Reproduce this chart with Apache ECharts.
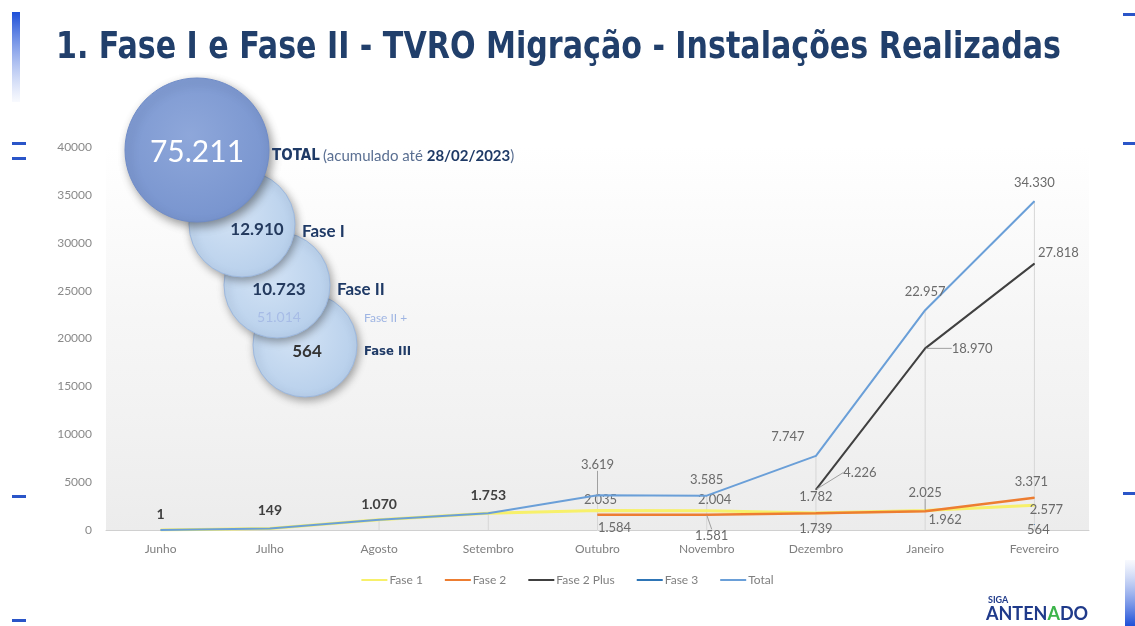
<!DOCTYPE html>
<html><head><meta charset="utf-8">
<script src="https://cdn.jsdelivr.net/npm/echarts@6/dist/echarts.min.js"></script>
<style>html,body{margin:0;padding:0;background:#fff}#c{width:1135px;height:626px}</style>
</head><body><div id="c"></div>
<script>
// ---------------- DATA ----------------
const months = ['Junho','Julho','Agosto','Setembro','Outubro','Novembro','Dezembro','Janeiro','Fevereiro'];
const fase1 = [1, 149, 1070, 1753, 2035, 2004, 1782, 2025, 2577];
const fase2 = [null, null, null, null, 1584, 1581, 1739, 1962, 3371];
const fase2Plus = [null, null, null, null, null, null, 4226, 18970, 27818];
const fase3 = [null, null, null, null, null, null, null, null, 564];
const total = [1, 149, 1070, 1753, 3619, 3585, 7747, 22957, 34330];
const yMin = 0, yMax = 40000, yStep = 5000;
const seriesNames = ['Fase 1', 'Fase 2', 'Fase 2 Plus', 'Fase 3', 'Total'];
const titleText = '1. Fase I e Fase II - TVRO Migração - Instalações Realizadas';
const bubbleValues = ['75.211', '12.910', '10.723', '51.014', '564'];
const bubbleLabels = ['TOTAL', 'Fase I', 'Fase II', 'Fase II +', 'Fase III'];
const totalNote = ['(acumulado até ', '28/02/2023', ')'];

// ---------------- LABEL PLACEMENT (style, kept apart from data) ----------------
// [dx, dy, leader?]  label centre relative to the point
const offTotal = [[0,-16],[0,-18],[0,-15],[0,-18],[0,-31,1],[0,-16],[-28,-19],[0,-18],[0,-18]];
const offF1 = [null,null,null,null,[3,-11],[8,-11],[0,-16],[0,-18,1],[12,4]];
const offF2 = [null,null,null,null,[17,13],[5,21,1],[0,15],[20,9],[-3,-16]];
const offF2P = [null,null,null,null,null,null,[44,-17,1],[47,0,1],[24,-11]];
const offF3 = [null,null,null,null,null,null,null,null,[4,5]];
const boldFirst = 4; // first total labels drawn darker/bolder

function fmt(v){ return String(v).replace(/\B(?=(\d{3})+(?!\d))/g, '.'); }

function buildData(values, offs, isTotal){
  return values.map((v, i) => {
    if (v == null) return null;
    const o = offs[i];
    const item = { value: v };
    if (o) {
      item.label = { show: true, position: 'inside' };
      if (isTotal && i < boldFirst) {
        item.label.color = '#404040';
        item.label.fontWeight = 'bold';
        item.label.fontSize = 14;
      }
      if (o[2]) item.labelLine = { show: true };
    } else {
      item.label = { show: false };
    }
    return item;
  });
}

const chart = echarts.init(document.getElementById('c'), null, { renderer: 'canvas' });
const fontB = 'Lato, "Open Sans", sans-serif';

const labelBase = { show: true, color: '#6b6b6b', fontSize: 13, fontFamily: fontB,
  formatter: p => fmt(p.value) };

function lineSeries(name, values, offs, color, width, z, isTotal){
  return {
    name, type: 'line', data: buildData(values, offs, isTotal),
    symbol: 'circle', symbolSize: 1, showSymbol: true,
    lineStyle: { color, width }, itemStyle: { color },
    label: labelBase, z, connectNulls: false, animation: false,
    labelLine: { show: false, lineStyle: { color: '#a0a0a0', width: 1 }, smooth: false, length2: 0 },
    labelLayout: function (p) {
      const o = offs[p.dataIndex];
      if (o) return { dx: o[0], dy: o[1] };
      return {};
    },
    emphasis: { disabled: true }
  };
}

// measure title to reproduce condensed width
const titleFont = 'bold 38px "DejaVu Sans Condensed", "DejaVu Sans", sans-serif';
const titleTargetW = 1005;
const mctx = document.createElement('canvas').getContext('2d');
mctx.font = titleFont;
const titleScale = titleTargetW / mctx.measureText(titleText).width;

const bubbleStyleLight = {
  fill: new echarts.graphic.RadialGradient(0.4, 0.4, 0.7, [
    { offset: 0, color: '#d3e3f5' }, { offset: 1, color: '#b4cdea' }]),
  stroke: '#9db8de', lineWidth: 1,
  shadowBlur: 8, shadowColor: 'rgba(0,0,0,0.35)', shadowOffsetX: 2, shadowOffsetY: 3
};
const bubbleStyleBig = {
  fill: new echarts.graphic.RadialGradient(0.45, 0.4, 0.75, [
    { offset: 0, color: '#8ea7da' }, { offset: 1, color: '#7390cc' }]),
  stroke: '#6f8cc8', lineWidth: 1,
  shadowBlur: 10, shadowColor: 'rgba(0,0,0,0.4)', shadowOffsetX: 3, shadowOffsetY: 4
};
const navy = '#1f3a66';
const condB = '"DejaVu Sans Condensed", sans-serif';

const graphics = [
  { type: 'rect', shape: { x: 12, y: 12, width: 8, height: 90 }, style: {
      fill: new echarts.graphic.LinearGradient(0, 0, 0, 1, [{ offset: 0, color: '#1d4fd8' }, { offset: 1, color: 'rgba(120,150,230,0.05)' }]) } },
  { type: 'rect', shape: { x: 12, y: 142, width: 14, height: 3 }, style: { fill: '#2a55c8' } },
  { type: 'rect', shape: { x: 12, y: 157, width: 14, height: 3 }, style: { fill: '#2a55c8' } },
  { type: 'rect', shape: { x: 12, y: 495, width: 14, height: 3 }, style: { fill: '#2a55c8' } },
  { type: 'rect', shape: { x: 12, y: 619, width: 14, height: 3 }, style: { fill: '#2a55c8' } },
  { type: 'rect', shape: { x: 1123, y: 13, width: 12, height: 3 }, style: { fill: '#2a55c8' } },
  { type: 'rect', shape: { x: 1123, y: 142, width: 12, height: 3 }, style: { fill: '#2a55c8' } },
  { type: 'rect', shape: { x: 1123, y: 492, width: 12, height: 3 }, style: { fill: '#2a55c8' } },
  { type: 'rect', shape: { x: 1125, y: 560, width: 10, height: 66 }, style: {
      fill: new echarts.graphic.LinearGradient(0, 0, 0, 1, [{ offset: 0, color: 'rgba(120,150,230,0.05)' }, { offset: 1, color: '#1d4fd8' }]) } },
  // title
  { type: 'text', x: 50, y: 48, scaleX: titleScale, originX: 50, originY: 48,
    style: { text: titleText, fill: '#213f6b', verticalAlign: 'middle', font: titleFont } },
  // bubbles (back to front)
  { type: 'circle', shape: { cx: 305, cy: 345, r: 52 }, style: bubbleStyleLight, z: 10 },
  { type: 'circle', shape: { cx: 277, cy: 285, r: 53 }, style: bubbleStyleLight, z: 11 },
  { type: 'circle', shape: { cx: 242, cy: 224, r: 53 }, style: bubbleStyleLight, z: 12 },
  { type: 'circle', shape: { cx: 197, cy: 150, r: 72 }, style: bubbleStyleBig, z: 13 },
  { type: 'text', x: 197, y: 152, z: 14, style: { text: bubbleValues[0], fill: '#ffffff', align: 'center', verticalAlign: 'middle', font: '30px ' + fontB } },
  { type: 'text', x: 257, y: 230, z: 14, style: { text: bubbleValues[1], fill: '#243a5e', align: 'center', verticalAlign: 'middle', font: 'bold 17px ' + fontB } },
  { type: 'text', x: 279, y: 290, z: 14, style: { text: bubbleValues[2], fill: '#243a5e', align: 'center', verticalAlign: 'middle', font: 'bold 17px ' + fontB } },
  { type: 'text', x: 279, y: 317, z: 14, style: { text: bubbleValues[3], fill: '#a7bce6', align: 'center', verticalAlign: 'middle', font: '14px ' + fontB } },
  { type: 'text', x: 307, y: 352, z: 14, style: { text: bubbleValues[4], fill: '#333333', align: 'center', verticalAlign: 'middle', font: 'bold 17px ' + fontB } },
  { type: 'text', x: 272, y: 156, z: 14, style: { verticalAlign: 'middle',
      text: '{a|' + bubbleLabels[0] + '} {b|' + totalNote[0] + '}{c|' + totalNote[1] + '}{b|' + totalNote[2] + '}',
      rich: {
        a: { fill: navy, font: 'bold 15px ' + condB },
        b: { fill: '#5a6f92', font: '15px ' + fontB },
        c: { fill: navy, font: 'bold 15px ' + fontB }
      } } },
  { type: 'text', x: 302, y: 232, z: 14, style: { text: bubbleLabels[1], fill: navy, verticalAlign: 'middle', font: 'bold 17px ' + fontB } },
  { type: 'text', x: 337, y: 290, z: 14, style: { text: bubbleLabels[2], fill: navy, verticalAlign: 'middle', font: 'bold 17px ' + fontB } },
  { type: 'text', x: 364, y: 318, z: 14, style: { text: bubbleLabels[3], fill: '#9fb5e3', verticalAlign: 'middle', font: '12px ' + fontB } },
  { type: 'text', x: 364, y: 352, z: 14, style: { text: bubbleLabels[4], fill: navy, verticalAlign: 'middle', font: 'bold 13px ' + condB } },
  // logo
  { type: 'text', x: 988, y: 596, style: { text: 'SIGA', fill: '#1f3a8a', font: 'bold 9px ' + fontB } },
  { type: 'text', x: 986, y: 605, style: {
      text: '{n|ANTEN}{g|A}{n|DO}', rich: {
        n: { fill: '#1f3a8a', font: 'bold 18px ' + fontB },
        g: { fill: '#3cb44a', font: 'bold 18px ' + fontB } } } }
];

const option = {
  animation: false,
  backgroundColor: '#ffffff',
  grid: { left: 106, right: 46, top: 147, bottom: 96, show: true, borderWidth: 0,
    backgroundColor: new echarts.graphic.LinearGradient(0, 0, 0, 1, [
      { offset: 0, color: 'rgba(240,240,240,0)' }, { offset: 0.45, color: 'rgba(240,240,240,0.6)' }, { offset: 1, color: '#ececec' }]) },
  legend: { data: seriesNames, left: 'center', top: 569, icon: 'rect', itemWidth: 26, itemHeight: 2, itemGap: 22,
    textStyle: { color: '#7f7f7f', fontSize: 12, fontFamily: fontB, padding: [0, 0, 0, -3] } },
  xAxis: { type: 'category', data: months, boundaryGap: true,
    axisLine: { lineStyle: { color: '#d0d0d0' } }, axisTick: { show: false },
    axisLabel: { color: '#7f7f7f', fontSize: 12, fontFamily: fontB, margin: 13, interval: 0 },
    splitLine: { show: false } },
  yAxis: { type: 'value', min: yMin, max: yMax, interval: yStep,
    axisLine: { show: false }, axisTick: { show: false }, splitLine: { show: false },
    axisLabel: { color: '#8a8a8a', fontSize: 12, fontFamily: fontB, margin: 14, formatter: v => String(v) } },
  series: [
    { name: 'drop', type: 'bar', data: total, barWidth: 1, itemStyle: { color: '#d6d6d6' }, z: 1, silent: true,
      label: { show: false }, emphasis: { disabled: true } },
    lineSeries('Fase 1', fase1, offF1, '#f7f06a', 3, 3, false),
    lineSeries('Fase 2', fase2, offF2, '#ed7d31', 2.5, 4, false),
    lineSeries('Fase 2 Plus', fase2Plus, offF2P, '#404040', 2, 5, false),
    lineSeries('Fase 3', fase3, offF3, '#2e75b6', 2, 6, false),
    lineSeries('Total', total, offTotal, '#6a9fd8', 2, 7, true)
  ],
  graphic: graphics
};
chart.setOption(option);
</script></body></html>
